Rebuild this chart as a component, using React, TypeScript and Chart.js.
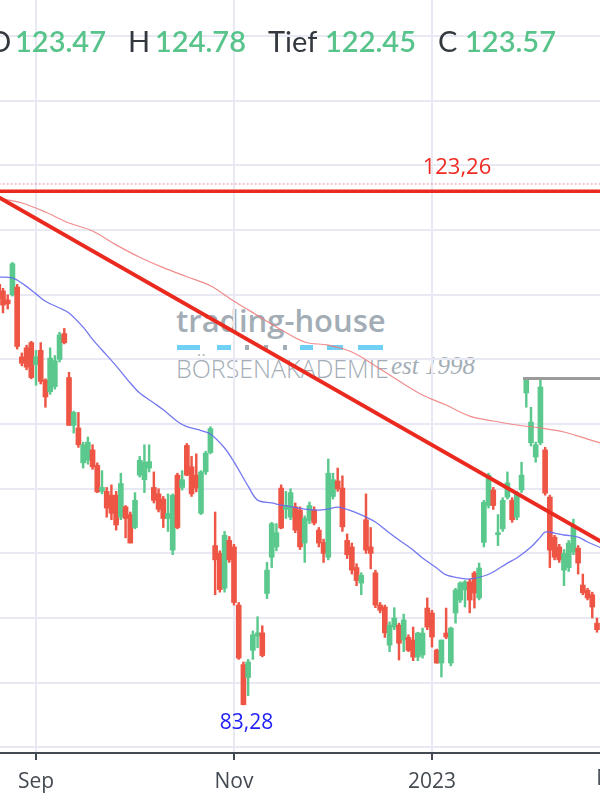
import React, { useEffect, useRef } from "react";
import { Chart, registerables } from "chart.js";

Chart.register(...registerables);

// ---------- calendar (trading days, US market holidays removed) ----------
const FIRST_DAY = "2022-08-22";
const LAST_DAY = "2023-03-03";
const HOLIDAYS = ["2022-09-05", "2022-11-24", "2022-12-26", "2023-01-02", "2023-01-16", "2023-02-20"];

function buildTradingDays(start: string, end: string): string[] {
  const out: string[] = [];
  const d = new Date(start + "T00:00:00Z");
  const e = new Date(end + "T00:00:00Z");
  while (d <= e) {
    const wd = d.getUTCDay();
    const s = d.toISOString().slice(0, 10);
    if (wd !== 0 && wd !== 6 && !HOLIDAYS.includes(s)) out.push(s);
    d.setUTCDate(d.getUTCDate() + 1);
  }
  return out;
}
const tradingDays = buildTradingDays(FIRST_DAY, LAST_DAY);

// ---------- daily candles (from 2022-08-22) ----------
const opens = [
  115.8, 115.3, 114.6, 115.0, 115.6, 110.2, 110.9, 111.3, 109.6, 110.7,
  108.4, 107.5, 107.9, 110.0, 112.0, 108.6, 104.9, 104.7, 102.0, 102.2,
  103.0, 101.8, 99.8, 99.8, 99.5, 99.5, 97.8, 98.6, 98.0, 97.0,
  101.05, 100.7, 101.6, 100.1, 99.6, 99.2, 97.7, 95.25, 101.05, 100.1,
  103.35, 101.7, 101.05, 98.1, 101.3, 102.8, 95.6, 95.0, 92.3, 96.0,
  95.5, 91.0, 86.4, 85.4, 87.5, 88.6, 88.85, 91.9, 94.7, 95.5,
  100.05, 98.4, 97.8, 98.6, 98.35, 95.8, 97.55, 98.35, 96.8, 95.85,
  94.7, 99.4, 100.6, 100.05, 96.0, 95.5, 93.9, 92.7, 97.6, 95.5,
  93.5, 91.0, 90.85, 87.9, 89.3, 89.45, 88.3, 88.5, 88.3, 86.98,
  87.14, 90.77, 90.39, 87.52, 86.52, 88.84, 86.52, 90.39, 91.39, 92.17,
  92.79, 93.48, 91.55, 95.85, 98.7, 99.9, 96.45, 96.9, 99.35, 99.1,
  97.8, 99.9, 107.4, 103.55, 102.45, 103.55, 103.0, 99.35, 96.25, 95.5,
  93.7, 93.9, 95.1, 95.4, 92.55, 92.15, 91.8, 89.6,
];
const highs = [
  116.1, 115.5, 115.0, 117.5, 115.8, 110.5, 111.1, 111.4, 110.7, 111.3,
  108.5, 110.9, 110.3, 112.1, 112.4, 109.0, 106.0, 105.9, 103.6, 104.0,
  103.4, 102.0, 101.4, 100.1, 100.3, 99.8, 101.2, 98.7, 98.2, 99.7,
  102.5, 103.4, 103.4, 101.3, 100.0, 99.4, 99.6, 99.6, 101.2, 101.4,
  103.5, 102.5, 102.7, 101.4, 102.9, 104.8, 98.2, 95.2, 96.7, 96.3,
  95.7, 91.2, 86.6, 86.8, 89.0, 90.1, 89.4, 94.3, 97.4, 97.3,
  100.3, 99.8, 100.0, 98.9, 98.6, 97.9, 98.97, 98.6, 97.0, 96.1,
  102.3, 101.2, 101.6, 101.0, 96.5, 95.8, 94.2, 93.5, 99.6, 97.0,
  93.7, 91.2, 91.0, 89.7, 90.8, 89.6, 90.3, 88.7, 89.3, 88.9,
  89.22, 91.55, 90.6, 87.6, 88.3, 90.77, 89.3, 92.3, 92.8, 92.9,
  93.0, 93.6, 94.25, 99.1, 101.2, 100.1, 98.0, 99.3, 101.3, 99.3,
  99.8, 102.05, 108.5, 106.3, 103.6, 108.5, 103.2, 99.5, 96.4, 95.7,
  95.3, 96.0, 97.65, 95.6, 93.4, 92.3, 92.0, 90.0,
];
const lows = [
  114.4, 113.6, 113.9, 114.9, 110.8, 109.5, 109.2, 108.5, 108.0, 108.1,
  106.3, 107.3, 107.7, 109.8, 111.2, 104.9, 104.3, 103.2, 101.6, 101.9,
  101.5, 99.7, 99.6, 97.8, 97.6, 96.8, 97.6, 96.2, 95.8, 96.9,
  100.9, 99.7, 101.3, 98.9, 98.2, 97.0, 96.7, 94.9, 96.9, 99.9,
  101.0, 99.4, 99.75, 98.0, 101.1, 102.7, 91.8, 92.0, 92.0, 94.3,
  91.0, 86.8, 83.28, 84.0, 86.8, 87.7, 87.0, 91.5, 93.9, 95.2,
  96.9, 97.7, 97.6, 96.6, 95.3, 94.3, 97.3, 97.2, 95.5, 94.3,
  94.5, 99.2, 99.8, 96.7, 94.6, 93.4, 92.5, 91.8, 95.0, 93.8,
  90.8, 90.4, 88.5, 87.4, 89.1, 86.75, 87.4, 87.4, 86.7, 86.7,
  86.9, 89.1, 87.75, 86.5, 85.44, 88.4, 86.3, 89.6, 91.2, 90.85,
  90.4, 90.77, 91.4, 95.5, 98.5, 98.4, 95.6, 96.7, 99.2, 97.4,
  97.6, 99.7, 106.3, 103.3, 102.05, 103.4, 99.5, 93.9, 94.5, 94.3,
  92.5, 93.6, 94.9, 93.4, 91.8, 91.4, 90.0, 88.9,
];
const closes = [
  114.7, 114.2, 114.3, 117.4, 111.0, 109.7, 109.4, 108.6, 110.2, 108.3,
  107.1, 110.1, 109.9, 111.9, 111.3, 104.9, 105.9, 103.4, 103.4, 103.6,
  101.7, 99.75, 100.1, 98.5, 98.1, 97.2, 100.4, 97.7, 95.8, 99.1,
  102.2, 102.05, 102.1, 99.1, 98.4, 97.7, 98.1, 99.5, 97.0, 100.7,
  101.05, 99.6, 100.05, 101.3, 102.75, 104.65, 94.5, 92.2, 96.4, 94.5,
  91.2, 86.9, 83.3, 86.6, 88.7, 88.85, 87.1, 93.7, 97.3, 96.6,
  96.96, 98.7, 99.7, 96.8, 95.5, 97.7, 98.7, 97.35, 95.8, 95.0,
  101.2, 100.7, 100.0, 97.05, 94.9, 93.7, 92.9, 93.3, 95.25, 95.0,
  91.0, 90.6, 88.85, 89.45, 90.0, 88.05, 89.85, 87.5, 86.98, 88.84,
  88.84, 89.3, 88.53, 86.52, 88.3, 88.53, 89.22, 92.17, 92.71, 92.79,
  91.39, 91.93, 93.87, 98.95, 101.05, 98.7, 96.6, 99.1, 100.45, 97.6,
  99.65, 101.05, 108.4, 105.15, 103.4, 107.87, 99.66, 95.25, 94.7, 94.5,
  95.0, 95.8, 97.2, 94.25, 91.95, 91.55, 90.85, 89.1,
];

// ---------- moving averages (trading-day index -> value) ----------
const ma200Idx = [0, 5, 10, 15, 20, 25, 30, 35, 40, 45, 50, 55, 60, 65, 70, 75, 80, 85, 90, 95, 100, 105, 110, 115, 120, 125, 130];
const ma200 = [122.48, 122.1, 121.4, 120.55, 119.93, 118.86, 117.9, 117.1, 116.4, 115.7, 114.5, 113.4, 112.3, 111.35, 111.1, 110.57, 109.5, 108.33, 107.25, 106.47, 105.62, 105.24, 104.93, 104.7, 104.39, 103.84, 103.3];

const ma50Idx = [0, 3, 5, 8, 10, 13, 15, 18, 20, 22, 25, 28, 30, 33, 35, 38, 40, 43, 45, 48, 50, 53, 55, 58, 60, 65, 68, 70, 72, 75, 78, 80, 83, 85, 88, 90, 93, 95, 98, 100, 103, 105, 108, 110, 113, 115, 116, 118, 120, 123, 125, 128];
const ma50 = [116.37, 116.3, 115.9, 115.07, 114.5, 113.98, 113.6, 112.5, 111.55, 110.73, 109.5, 108.18, 107.4, 106.63, 106.1, 105.2, 104.8, 104.5, 104.23, 103.15, 102.07, 100.2, 99.12, 98.9, 98.74, 98.43, 98.35, 98.43, 98.58, 98.27, 97.81, 97.42, 96.57, 96.03, 95.26, 94.64, 93.87, 93.33, 93.09, 93.02, 93.25, 93.56, 94.25, 94.64, 95.49, 96.26, 96.65, 96.57, 96.42, 96.26, 95.88, 95.41];

// ---------- drawn levels ----------
const trendIdx = [-5, 135];
const trendVals = [123.6, 94.42];
const resistanceLevel = 123.0;
const resistanceLabel = "123,26";
const resistanceLabelIdx = 97.3;
const lastClose = 123.57;
const highLevel = 108.53;
const highLevelFrom = 111.3;
const lowLabel = "83,28";

// ---------- axes ----------
const tickDates = ["2022-09-01", "2022-11-01", "2023-01-03", "2023-03-01"];
const tickLabels = ["Sep", "Nov", "2023", "Mar"];
const priceGrid = [80, 85, 90, 95, 100, 105, 110, 115, 120, 125, 130, 135];
const X_MIN = 0.363;
const X_MAX = 127.64;
const Y_MIN = 79.56;
const Y_MAX = 137.8;

// ---------- header ----------
const headerKeys = ["O", "H", "Tief", "C"];
const headerVals = ["123.47", "124.78", "122.45", "123.57"];
const headerKeyLeft = [-12, 128, 268, 438];
const headerValLeft = [15, 155, 325, 465];

const GREEN = "#5bc98e";
const RED = "#ee5545";
const GRID = "#e9e9f4";
const AXIS = "#444a52";

export default function App() {
  const ref = useRef<HTMLCanvasElement | null>(null);

  useEffect(() => {
    if (!ref.current) return;
    const tickIdx = tickDates.map((d) => tradingDays.indexOf(d));
    const colors = opens.map((o, i) => (closes[i] >= o ? GREEN : RED));
    const lowIdx = lows.indexOf(Math.min(...lows));

    const overlay = {
      id: "overlayText",
      afterDatasetsDraw(chart: any) {
        const { ctx, scales } = chart;
        const x = scales.x;
        const y = scales.y;
        ctx.save();
        ctx.textAlign = "center";
        ctx.textBaseline = "middle";
        ctx.font = '22px "Open Sans"';
        ctx.fillStyle = "#ee2b22";
        ctx.fillText(resistanceLabel, x.getPixelForValue(resistanceLabelIdx), y.getPixelForValue(resistanceLevel) - 24);
        ctx.font = '21px "Open Sans"';
        ctx.fillStyle = "#1f1ff5";
        ctx.fillText(lowLabel, x.getPixelForValue(lowIdx) + 3, y.getPixelForValue(lows[lowIdx]) + 18);
        ctx.restore();
      },
      afterDraw(chart: any) {
        const { ctx, scales } = chart;
        const x = scales.x;
        ctx.save();
        ctx.textAlign = "center";
        ctx.textBaseline = "top";
        ctx.font = '21px "Open Sans"';
        ctx.fillStyle = AXIS;
        const i = tickIdx[3];
        ctx.fillText(tickLabels[3], x.getPixelForValue(i), x.top + 16);
        ctx.restore();
      },
    };

    const chart = new Chart(ref.current, {
      type: "bar",
      data: {
        datasets: [
          {
            type: "line",
            data: trendIdx.map((v, i) => ({ x: v, y: trendVals[i] })),
            borderColor: "#ea2a1f",
            borderWidth: 4,
            pointRadius: 0,
            order: 0,
          } as any,
          {
            type: "line",
            data: [{ x: -5, y: resistanceLevel }, { x: 140, y: resistanceLevel }],
            borderColor: "#ea2a1f",
            borderWidth: 3.5,
            pointRadius: 0,
            order: 0,
          } as any,
          {
            type: "line",
            data: [{ x: -5, y: lastClose }, { x: 140, y: lastClose }],
            borderColor: "rgba(236,110,130,0.8)",
            borderWidth: 1,
            borderDash: [2, 2],
            pointRadius: 0,
            order: 0,
          } as any,
          {
            type: "line",
            data: [{ x: highLevelFrom, y: highLevel }, { x: 140, y: highLevel }],
            borderColor: "#9b9b9b",
            borderWidth: 3,
            pointRadius: 0,
            order: 0,
          } as any,
          {
            type: "line",
            data: ma200Idx.map((v, i) => ({ x: v, y: ma200[i] })),
            borderColor: "rgba(238,120,120,0.85)",
            borderWidth: 1.2,
            pointRadius: 0,
            tension: 0.35,
            order: 1,
          } as any,
          {
            type: "line",
            data: ma50Idx.map((v, i) => ({ x: v, y: ma50[i] })),
            borderColor: "rgba(100,105,240,0.9)",
            borderWidth: 1.3,
            pointRadius: 0,
            tension: 0.35,
            order: 1,
          } as any,
          {
            type: "bar",
            data: lows.map((l, i) => ({ x: i, y: [l, highs[i]] })),
            backgroundColor: colors,
            barThickness: 1.8,
            grouped: false,
            order: 3,
          } as any,
          {
            type: "bar",
            data: opens.map((o, i) => ({ x: i, y: [o, closes[i]] })),
            backgroundColor: colors,
            barThickness: 5,
            minBarLength: 1.5,
            grouped: false,
            order: 2,
          } as any,
        ],
      },
      options: {
        animation: false,
        responsive: false,
        events: [],
        layout: { padding: 0 },
        plugins: { legend: { display: false }, tooltip: { enabled: false } },
        scales: {
          x: {
            type: "linear",
            min: X_MIN,
            max: X_MAX,
            offset: false,
            afterBuildTicks: (s: any) => {
              s.ticks = tickIdx.slice(0, 3).map((v) => ({ value: v }));
            },
            afterFit: (s: any) => {
              s.height = 47;
            },
            ticks: {
              autoSkip: false,
              maxRotation: 0,
              padding: 9,
              color: AXIS,
              font: { family: "Open Sans", size: 21 },
              callback: (v: any) => tickLabels[tickIdx.indexOf(v)] ?? "",
            },
            grid: {
              offset: false,
              color: GRID,
              lineWidth: 2,
              tickLength: 7,
              tickColor: AXIS,
              tickWidth: 2,
            },
            border: { display: true, color: AXIS, width: 2 },
          },
          y: {
            type: "linear",
            min: Y_MIN,
            max: Y_MAX,
            afterBuildTicks: (s: any) => {
              s.ticks = priceGrid.map((v) => ({ value: v }));
            },
            afterFit: (s: any) => {
              s.width = 0;
            },
            ticks: { display: false },
            grid: { color: GRID, lineWidth: 2, drawTicks: false },
            border: { display: false },
          },
        },
      } as any,
      plugins: [overlay],
    });
    return () => chart.destroy();
  }, []);

  const wm = "#a3adb6";
  const dashes: [number, number, string][] = [
    [177, 200, "#6fcff4"], [217, 231, "#6fcff4"], [245, 249, wm], [264, 268, wm], [283, 287, wm],
    [300, 313, "#6fcff4"], [327, 343, "#6fcff4"], [358, 383, "#6fcff4"],
  ];

  return (
    <div style={{ position: "absolute", left: 0, top: 0, width: 600, height: 800, overflow: "hidden", background: "#fff" }}>
      <div style={{ position: "absolute", left: 0, top: 0, width: 600, height: 800 }}>
        <div style={{ position: "absolute", left: 176, top: 299, font: '600 31px "Open Sans"', color: wm, lineHeight: "42px", whiteSpace: "nowrap" }}>
          trading-house
        </div>
        {dashes.map(([a, b, c], i) => (
          <div key={i} style={{ position: "absolute", left: a, top: 345, width: b - a, height: 5, background: c }} />
        ))}
        <div style={{ position: "absolute", left: 176, top: 353, font: '300 25px "Open Sans"', color: wm, lineHeight: "30px", whiteSpace: "nowrap" }}>
          BÖRSENAKADEMIE
        </div>
        <div style={{ position: "absolute", left: 391, top: 351, font: 'italic 25px "Liberation Serif"', color: wm, lineHeight: "30px", whiteSpace: "nowrap" }}>
          est 1998
        </div>
      </div>
      <canvas ref={ref} width={600} height={800} style={{ position: "absolute", left: 0, top: 0, width: 600, height: 800 }} />
      {headerKeys.map((k, i) => (
        <React.Fragment key={k}>
          <span style={{ position: "absolute", left: headerKeyLeft[i], top: 26, font: '400 29px Lato', color: "#33383f", lineHeight: "30px", whiteSpace: "nowrap" }}>{k}</span>
          <span style={{ position: "absolute", left: headerValLeft[i], top: 26, font: '600 29px Lato', color: "#58c48b", lineHeight: "30px", whiteSpace: "nowrap" }}>{headerVals[i]}</span>
        </React.Fragment>
      ))}
    </div>
  );
}
